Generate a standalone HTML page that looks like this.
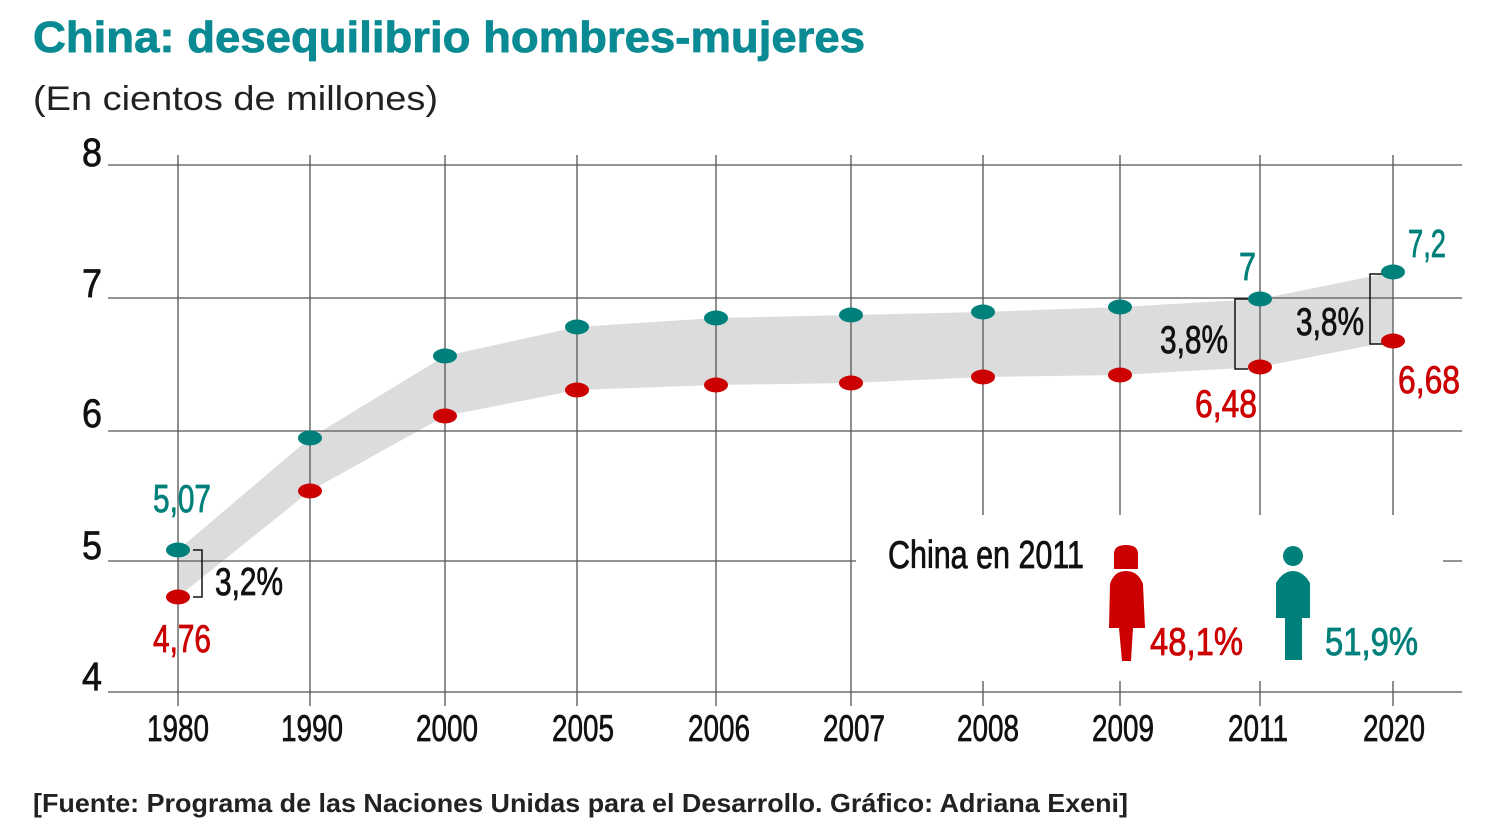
<!DOCTYPE html>
<html><head><meta charset="utf-8"><style>html,body{margin:0;padding:0;background:#fff}svg{display:block}</style></head>
<body>
<svg width="1496" height="825" viewBox="0 0 1496 825" xmlns="http://www.w3.org/2000/svg" font-family="Liberation Sans, sans-serif">
<text x="33" y="52" font-size="44" font-weight="bold" fill="#0a8a93" stroke="#0a8a93" stroke-width="0.8" textLength="832" lengthAdjust="spacingAndGlyphs">China: desequilibrio hombres-mujeres</text>
<text x="33" y="110" font-size="34" fill="#222" textLength="405" lengthAdjust="spacingAndGlyphs">(En cientos de millones)</text>
<text x="33" y="812" font-size="26" font-weight="bold" fill="#222" textLength="1095" lengthAdjust="spacingAndGlyphs">[Fuente: Programa de las Naciones Unidas para el Desarrollo. Gráfico: Adriana Exeni]</text>

<polygon fill="#dcdcdc" points="178,550 310,438 445,356 577,327 716,318 851,315 983,312 1120,307 1260,299 1393,272 1393,341 1260,367 1120,375 983,377 851,383 716,385 577,390 445,416 310,491 178,597"/>

<g stroke="#555" stroke-width="1.3" fill="none">
<line x1="108" y1="165" x2="1462" y2="165"/>
<line x1="108" y1="298" x2="1462" y2="298"/>
<line x1="108" y1="431" x2="1462" y2="431"/>
<line x1="108" y1="561" x2="856" y2="561"/>
<line x1="1443" y1="561" x2="1462" y2="561"/>
<line x1="108" y1="692" x2="1462" y2="692"/>
<line x1="178" y1="155" x2="178" y2="706"/>
<line x1="310" y1="155" x2="310" y2="706"/>
<line x1="445" y1="155" x2="445" y2="706"/>
<line x1="577" y1="155" x2="577" y2="706"/>
<line x1="716" y1="155" x2="716" y2="706"/>
<line x1="851" y1="155" x2="851" y2="706"/>
<line x1="983" y1="155" x2="983" y2="515"/><line x1="983" y1="681" x2="983" y2="706"/>
<line x1="1120" y1="155" x2="1120" y2="515"/><line x1="1120" y1="681" x2="1120" y2="706"/>
<line x1="1260" y1="155" x2="1260" y2="515"/><line x1="1260" y1="681" x2="1260" y2="706"/>
<line x1="1393" y1="155" x2="1393" y2="515"/><line x1="1393" y1="681" x2="1393" y2="706"/>
</g>

<g stroke="#111" stroke-width="1.5" fill="none">
<polyline points="193,550 202,550 202,597 193,597"/>
<polyline points="1248,299 1235,299 1235,369 1248,369"/>
<polyline points="1383,274 1370,274 1370,344 1383,344"/>
</g>

<g fill="#00807a">
<ellipse cx="178" cy="550" rx="12" ry="7.5"/><ellipse cx="310" cy="438" rx="12" ry="7.5"/><ellipse cx="445" cy="356" rx="12" ry="7.5"/><ellipse cx="577" cy="327" rx="12" ry="7.5"/><ellipse cx="716" cy="318" rx="12" ry="7.5"/><ellipse cx="851" cy="315" rx="12" ry="7.5"/><ellipse cx="983" cy="312" rx="12" ry="7.5"/><ellipse cx="1120" cy="307" rx="12" ry="7.5"/><ellipse cx="1260" cy="299" rx="12" ry="7.5"/><ellipse cx="1393" cy="272" rx="12" ry="7.5"/>
</g>
<g fill="#cc0000">
<ellipse cx="178" cy="597" rx="12" ry="7.5"/><ellipse cx="310" cy="491" rx="12" ry="7.5"/><ellipse cx="445" cy="416" rx="12" ry="7.5"/><ellipse cx="577" cy="390" rx="12" ry="7.5"/><ellipse cx="716" cy="385" rx="12" ry="7.5"/><ellipse cx="851" cy="383" rx="12" ry="7.5"/><ellipse cx="983" cy="377" rx="12" ry="7.5"/><ellipse cx="1120" cy="375" rx="12" ry="7.5"/><ellipse cx="1260" cy="367" rx="12" ry="7.5"/><ellipse cx="1393" cy="341" rx="12" ry="7.5"/>
</g>

<g font-size="40" fill="#111" stroke="#111" stroke-width="0.7">
<text x="82" y="166" textLength="20" lengthAdjust="spacingAndGlyphs">8</text>
<text x="82" y="297" textLength="20" lengthAdjust="spacingAndGlyphs">7</text>
<text x="82" y="427" textLength="20" lengthAdjust="spacingAndGlyphs">6</text>
<text x="82" y="559" textLength="20" lengthAdjust="spacingAndGlyphs">5</text>
<text x="82" y="690" textLength="20" lengthAdjust="spacingAndGlyphs">4</text>
</g>
<g font-size="37" fill="#111" stroke="#111" stroke-width="0.7" text-anchor="middle">
<text x="178" y="741" textLength="62" lengthAdjust="spacingAndGlyphs">1980</text>
<text x="312" y="741" textLength="62" lengthAdjust="spacingAndGlyphs">1990</text>
<text x="447" y="741" textLength="62" lengthAdjust="spacingAndGlyphs">2000</text>
<text x="583" y="741" textLength="62" lengthAdjust="spacingAndGlyphs">2005</text>
<text x="719" y="741" textLength="62" lengthAdjust="spacingAndGlyphs">2006</text>
<text x="854" y="741" textLength="62" lengthAdjust="spacingAndGlyphs">2007</text>
<text x="988" y="741" textLength="62" lengthAdjust="spacingAndGlyphs">2008</text>
<text x="1123" y="741" textLength="62" lengthAdjust="spacingAndGlyphs">2009</text>
<text x="1258" y="741" textLength="60" lengthAdjust="spacingAndGlyphs">2011</text>
<text x="1394" y="741" textLength="62" lengthAdjust="spacingAndGlyphs">2020</text>
</g>

<g font-size="39" stroke-width="0.8">
<text x="153" y="512" fill="#00807a" stroke="#00807a" textLength="58" lengthAdjust="spacingAndGlyphs">5,07</text>
<text x="153" y="652" fill="#cc0000" stroke="#cc0000" textLength="58" lengthAdjust="spacingAndGlyphs">4,76</text>
<text x="215" y="595" fill="#111" stroke="#111" textLength="68" lengthAdjust="spacingAndGlyphs">3,2%</text>
<text x="1239" y="280" fill="#00807a" stroke="#00807a" textLength="17" lengthAdjust="spacingAndGlyphs">7</text>
<text x="1408" y="257" fill="#00807a" stroke="#00807a" textLength="38" lengthAdjust="spacingAndGlyphs">7,2</text>
<text x="1160" y="353" fill="#111" stroke="#111" textLength="68" lengthAdjust="spacingAndGlyphs">3,8%</text>
<text x="1296" y="335" fill="#111" stroke="#111" textLength="68" lengthAdjust="spacingAndGlyphs">3,8%</text>
<text x="1195" y="417" fill="#cc0000" stroke="#cc0000" textLength="62" lengthAdjust="spacingAndGlyphs">6,48</text>
<text x="1398" y="393" fill="#cc0000" stroke="#cc0000" textLength="62" lengthAdjust="spacingAndGlyphs">6,68</text>
<text x="888" y="568" fill="#111" stroke="#111" textLength="196" lengthAdjust="spacingAndGlyphs">China en 2011</text>
<text x="1150" y="655" fill="#cc0000" stroke="#cc0000" textLength="93" lengthAdjust="spacingAndGlyphs">48,1%</text>
<text x="1325" y="655" fill="#00807a" stroke="#00807a" textLength="93" lengthAdjust="spacingAndGlyphs">51,9%</text>
</g>

<g fill="#cc0000">
<path d="M1114,569 L1114,554 Q1114,545 1126,545 Q1138,545 1138,554 L1138,569 Z"/>
<path d="M1109,628 L1110,584 Q1114,571 1126,571 Q1138,571 1143,584 L1145,628 Z"/>
<path d="M1119,628 L1133,628 L1131,661 L1122,661 Z"/>
</g>
<g fill="#00807a">
<circle cx="1293" cy="556" r="10"/>
<path d="M1276,618 L1276,583 Q1283,571 1293,571 Q1303,571 1310,583 L1310,618 Z"/>
<rect x="1285" y="617" width="17" height="43"/>
</g>
</svg>
</body></html>
